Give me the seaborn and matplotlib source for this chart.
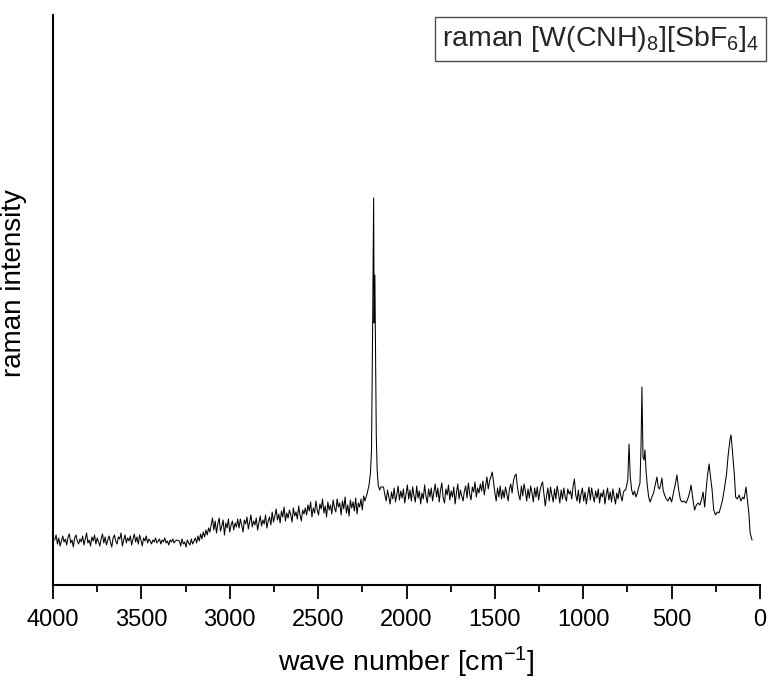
import matplotlib
matplotlib.use("Agg")
import matplotlib.pyplot as plt
import seaborn as sns
import pandas as pd

# ---- data ----
# region A: flat baseline, 3990 -> 3300 cm-1, sampled every 7.5 cm-1
int_a = [45, 50, 41, 47, 39, 44, 49, 43, 46, 40, 48, 51, 42, 45, 38, 47, 50, 44, 41, 46,
         43, 49, 40, 46, 52, 42, 45, 39, 48, 44, 50, 41, 47, 43, 39, 46, 51, 42, 48, 40,
         45, 49, 43, 38, 47, 50, 44, 41, 48, 46, 52, 39, 45, 50, 42, 47, 44, 49, 40, 46,
         51, 43, 48, 41, 50, 45, 39, 47, 44, 49, 42, 46, 44, 41, 45, 43, 47, 42, 44, 46,
         41, 45, 43, 47, 42, 44, 40, 45, 43, 46, 42, 44, 45]
wn_a = [3990 - 7.5 * i for i in range(len(int_a))]

# region B: rising background, 3285 -> 2235 cm-1
int_b = [44, 39, 46, 41, 43, 38, 45, 42, 40, 46, 41, 44,
         47, 42, 49, 44, 51, 46, 53, 48, 55,
         50, 57, 53, 60, 67,
         55, 64, 52, 61, 67, 54, 59, 65, 50, 62, 57, 66, 53, 60, 64, 55, 62, 58, 66,
         57, 66, 60, 53, 65, 61, 68, 56, 63, 70, 58, 64, 60, 67, 55, 62, 69, 59, 65, 61,
         70, 57, 64, 68, 60,
         73, 63, 69, 76, 65, 71, 62, 74, 68, 78, 64, 72, 67, 75, 70, 63, 77, 69, 73, 66,
         79, 70, 64, 75, 71, 77,
         70, 80, 74, 83, 68, 77, 72, 84, 75, 70, 81, 76, 86, 72, 79, 68, 83, 75, 80, 71,
         85, 77, 73, 86, 78, 82, 70, 84, 76, 88, 72, 80, 69, 85, 77, 83, 74, 87, 71, 82,
         78, 86, 75, 89, 84]
wn_b = [3285 - 7.5 * i for i in range(len(int_b))]

# region C: strong C-N stretch band (double peak)
wn_c = [2222, 2212, 2204, 2198, 2192, 2186, 2183, 2179, 2175, 2171, 2166, 2160,
        2152, 2145]
int_c = [92, 100, 112, 135, 250, 387, 262, 310, 235, 150, 115, 100,
         95, 98]

# region D: 2130 -> 1080 cm-1
int_d = [98, 90, 84, 95, 88, 81, 93, 86, 97, 83, 90, 99, 85, 94, 87, 96, 82, 91, 100, 86,
         95, 84, 98, 89, 83, 99, 87, 94, 81, 92, 86, 100, 89, 82, 96, 88, 97, 84, 93, 101,
         88, 97, 83, 95, 102, 87, 82, 96, 90, 100, 85, 94, 88, 98, 81, 92, 101, 86, 95, 89,
         84, 94, 99, 87, 102, 91, 85, 98, 93, 103, 88, 97, 92, 101, 94, 104, 90, 99, 108, 96,
         104, 108, 113, 103, 92, 84, 97, 88, 99, 86, 95, 87, 98, 91, 84, 96, 101, 92, 104, 109,
         111, 98, 90, 85, 99, 89, 101, 94, 84, 96, 87, 99, 92, 83, 97, 88, 98, 85, 94, 100,
         103, 91, 79, 89, 97, 84, 98, 90, 83, 96, 86, 99, 91, 82, 95, 86, 97, 88, 84, 96, 91]
wn_d = [2130 - 7.5 * i for i in range(len(int_d))]

# region E: 1072.5 -> 765 cm-1
int_e = [94, 86, 99, 106, 90, 84, 95, 82, 91, 97, 84, 93, 81, 90, 98, 85, 97, 89, 83, 94,
         87, 96, 82, 92, 88, 95, 81, 90, 97, 85, 93, 83, 96, 88, 81, 92, 86, 97, 89, 84,
         93, 95]
wn_e = [1072.5 - 7.5 * i for i in range(len(int_e))]

# region F: fingerprint bands below 760 cm-1
wn_f = [760, 748, 741, 734, 726, 718, 710, 702, 694, 686, 679, 673,
        668, 662, 656, 651, 645, 638, 630, 622, 612, 602, 593, 583,
        576, 569, 562, 555, 548, 540, 530, 520, 510, 500, 490, 480,
        470, 460, 450, 440, 430, 418, 405, 395, 390, 380, 370, 360,
        350, 340, 330, 322, 313, 305, 297, 288, 280, 271, 262, 252,
        242, 232, 222, 212, 200, 190, 180, 170, 164, 155, 145, 138,
        128, 118, 108, 98, 90, 79, 70, 62, 56, 45]
int_f = [95, 105, 141, 108, 95, 90, 94, 88, 92, 98, 102, 140,
         198, 128, 125, 135, 115, 100, 88, 83, 88, 92, 100, 108,
         98, 96, 100, 107, 95, 90, 86, 84, 88, 83, 92, 100,
         110, 95, 85, 83, 84, 82, 88, 95, 100, 86, 75, 80,
         82, 80, 86, 93, 78, 95, 110, 121, 108, 95, 75, 70,
         73, 72, 78, 85, 98, 110, 130, 145, 150, 132, 110, 88,
         86, 90, 84, 88, 86, 98, 83, 70, 52, 45]

series_label = r"raman [W(CNH)$_8$][SbF$_6$]$_4$"
x_ticks = [4000, 3500, 3000, 2500, 2000, 1500, 1000, 500, 0]
x_tick_labels = ["4000", "3500", "3000", "2500", "2000", "1500", "1000", "500", "0"]
x_minor_ticks = [3750, 3250, 2750, 2250, 1750, 1250, 750, 250]

df = pd.DataFrame({
    "wavenumber": wn_a + wn_b + wn_c + wn_d + wn_e + wn_f,
    "intensity": int_a + int_b + int_c + int_d + int_e + int_f,
})

# ---- style ----
sns.set_style("ticks")
plt.rcParams["font.family"] = ["Liberation Sans", "DejaVu Sans"]
plt.rcParams["mathtext.fontset"] = "custom"
plt.rcParams["mathtext.rm"] = "Liberation Sans"
plt.rcParams["mathtext.it"] = "Liberation Sans:italic"
plt.rcParams["mathtext.bf"] = "Liberation Sans:bold"

fig = plt.figure(figsize=(7.71, 6.81), dpi=100)
ax = fig.add_axes([53 / 771, 1 - 585 / 681, 707 / 771, 570 / 681])

sns.lineplot(data=df, x="wavenumber", y="intensity", ax=ax, color="black",
             linewidth=0.75, label=series_label, sort=False)

ax.set_xlim(4000, 0)
ax.set_ylim(0, 570)
ax.set_xticks(x_ticks)
ax.set_xticklabels(x_tick_labels)
ax.set_xticks(x_minor_ticks, minor=True)
ax.set_yticks([])
ax.tick_params(axis="x", which="major", length=10, width=1.3, direction="out",
               labelsize=17, pad=7, color="black", labelcolor="black")
ax.tick_params(axis="x", which="minor", length=5, width=1.3, direction="out",
               color="black")

for s in ["top", "right"]:
    ax.spines[s].set_visible(False)
for s in ["left", "bottom"]:
    ax.spines[s].set_linewidth(1.5)
    ax.spines[s].set_color("black")

ax.set_xlabel(r"wave number [cm$^{-1}$]", fontsize=20.5, labelpad=10, color="black")
ax.set_ylabel("raman intensity", fontsize=20, color="black")
ax.yaxis.set_label_coords(-0.037, 0.53)

leg = ax.legend(loc="upper right", bbox_to_anchor=(1.0085, 0.9965), fontsize=20.5,
                handlelength=0, handletextpad=0, fancybox=False, framealpha=1,
                edgecolor="#505050", borderpad=0.25, borderaxespad=0)
leg.get_frame().set_linewidth(1.0)
for h in leg.legend_handles:
    h.set_visible(False)

fig.savefig("out.png", dpi=100)
